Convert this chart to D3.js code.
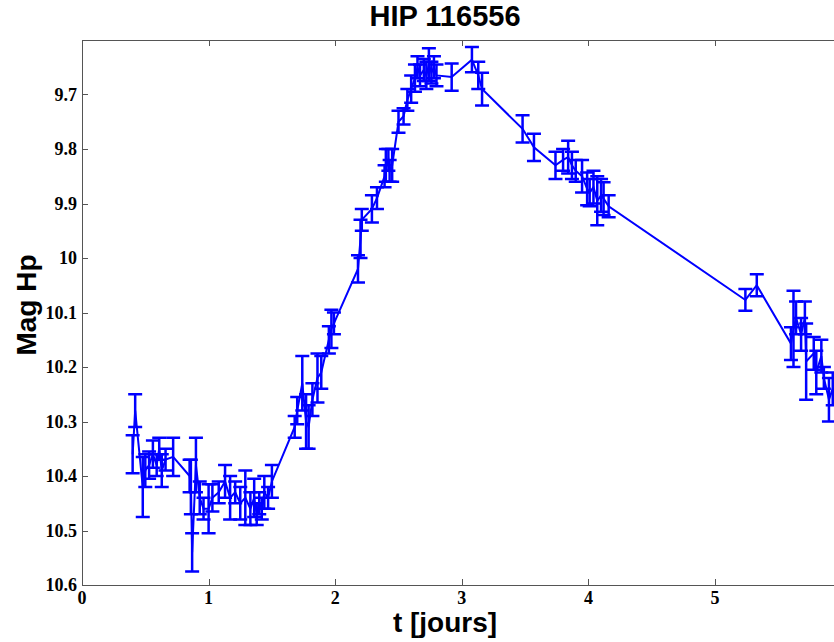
<!DOCTYPE html>
<html>
<head>
<meta charset="utf-8">
<script src="https://cdn.jsdelivr.net/npm/d3@7"></script>
<style>
  body { margin: 0; background: #fff; }
  .tick-label { font-family: 'Liberation Serif', 'Times New Roman', serif; font-weight: bold; font-size: 18px; }
  .big { font-family: 'Liberation Sans', Arial, sans-serif; font-weight: bold; }
</style>
</head>
<body>
<div id="chart"></div>
<script>
  'use strict';

  // time in days
  var times = [
    0.40, 0.42, 0.48, 0.50, 0.53, 0.56, 0.59, 0.61, 0.63, 0.66,
    0.72, 0.85, 0.86, 0.87, 0.90, 0.93, 0.96, 1.00, 1.03, 1.08,
    1.13, 1.17, 1.21, 1.25, 1.29, 1.33, 1.36, 1.38, 1.40, 1.42,
    1.44, 1.47, 1.50, 1.68, 1.70, 1.74, 1.77, 1.79, 1.82, 1.86,
    1.89, 1.95, 1.97, 1.99, 2.18, 2.20, 2.21, 2.29, 2.33, 2.39,
    2.40, 2.42, 2.43, 2.45, 2.50, 2.54, 2.57, 2.60, 2.63, 2.65,
    2.67, 2.70, 2.72, 2.74, 2.76, 2.78, 2.80, 2.92, 3.08, 3.13,
    3.16, 3.48, 3.57, 3.74, 3.80, 3.84, 3.87, 3.90, 3.95, 3.99,
    4.01, 4.04, 4.07, 4.10, 4.12, 4.16, 5.24, 5.33, 5.60, 5.62,
    5.64, 5.68, 5.71, 5.72, 5.78, 5.80, 5.84, 5.86, 5.90, 5.93,
    6.00
  ];

  // magnitude Hp
  var mags = [
    10.36, 10.28, 10.42, 10.39, 10.38, 10.36, 10.38, 10.35, 10.39, 10.37,
    10.365, 10.40, 10.42, 10.54, 10.38, 10.44, 10.46, 10.46, 10.44, 10.43,
    10.41, 10.44, 10.43, 10.45, 10.44, 10.46, 10.44, 10.47, 10.45, 10.46,
    10.43, 10.44, 10.41, 10.31, 10.28, 10.23, 10.30, 10.31, 10.26, 10.22,
    10.21, 10.15, 10.13, 10.12, 10.02, 9.965, 9.93, 9.91, 9.89, 9.85,
    9.83, 9.82, 9.84, 9.83, 9.75, 9.74, 9.71, 9.69, 9.67, 9.65,
    9.665, 9.655, 9.665, 9.645, 9.66, 9.65, 9.665, 9.668, 9.636, 9.665,
    9.69, 9.763, 9.797, 9.83, 9.82, 9.815, 9.83, 9.84, 9.85, 9.873,
    9.88, 9.87, 9.895, 9.885, 9.891, 9.905, 10.077, 10.05, 10.157, 10.13,
    10.11, 10.14, 10.11, 10.19, 10.175, 10.21, 10.18, 10.22, 10.26, 10.24,
    10.27
  ];

  // error bar half-widths
  var errs = [
    0.035, 0.03, 0.055, 0.03, 0.025, 0.025, 0.02, 0.02, 0.03, 0.02,
    0.035, 0.03, 0.05, 0.035, 0.05, 0.03, 0.02, 0.045, 0.025, 0.02,
    0.03, 0.04, 0.02, 0.03, 0.05, 0.03, 0.035, 0.02, 0.02, 0.02,
    0.03, 0.02, 0.03, 0.02, 0.025, 0.05, 0.05, 0.04, 0.03, 0.045,
    0.03, 0.025, 0.035, 0.02, 0.025, 0.035, 0.02, 0.025, 0.02, 0.02,
    0.03, 0.02, 0.02, 0.03, 0.02, 0.015, 0.02, 0.025, 0.025, 0.02,
    0.02, 0.02, 0.025, 0.03, 0.02, 0.02, 0.02, 0.025, 0.023, 0.025,
    0.03, 0.025, 0.025, 0.025, 0.02, 0.03, 0.025, 0.02, 0.03, 0.03,
    0.025, 0.03, 0.045, 0.03, 0.03, 0.02, 0.02, 0.02, 0.03, 0.07,
    0.03, 0.03, 0.03, 0.07, 0.03, 0.04, 0.03, 0.02, 0.04, 0.03,
    0.03
  ];

  var xTicks = [ 0, 1, 2, 3, 4, 5, 6 ];
  var yTicks = [ 9.7, 9.8, 9.9, 10, 10.1, 10.2, 10.3, 10.4, 10.5, 10.6 ];

  var width = 834,
      height = 642,
      plotLeft = 82,
      plotTop = 40,
      plotBottom = 585,
      pxPerDay = 126.6,
      blue = '#0000ff',
      axisColor = '#555',
      cap = 7;

  var data = times.map(function( t, i ) {
    return { t: t, m: mags[i], e: errs[i] };
  });

  var x = d3.scaleLinear()
    .domain([ 0, 6.5 ])
    .range([ plotLeft, plotLeft + pxPerDay * 6.5 ]);

  var y = d3.scaleLinear()
    .domain([ 9.6, 10.6 ])
    .range([ plotTop, plotBottom ]);

  var svg = d3.select( '#chart' )
    .append( 'svg' )
    .attr( 'width', width )
    .attr( 'height', height )
    .style( 'display', 'block' );

  svg.append( 'rect' )
    .attr( 'width', width )
    .attr( 'height', height )
    .attr( 'fill', '#fff' );

  // axes box (right side runs off the picture)
  var xRight = x( 6.5 );

  var axisG = svg.append( 'g' )
    .attr( 'stroke', axisColor )
    .attr( 'stroke-width', 1 )
    .attr( 'fill', 'none' );

  axisG.append( 'rect' )
    .attr( 'x', plotLeft + 0.5 )
    .attr( 'y', plotTop + 0.5 )
    .attr( 'width', xRight - plotLeft )
    .attr( 'height', plotBottom - plotTop );

  // inward ticks
  xTicks.forEach(function( t ) {
    var px = Math.round( x( t ) ) + 0.5;
    axisG.append( 'line' )
      .attr( 'x1', px ).attr( 'x2', px )
      .attr( 'y1', plotBottom ).attr( 'y2', plotBottom - 6 );
    axisG.append( 'line' )
      .attr( 'x1', px ).attr( 'x2', px )
      .attr( 'y1', plotTop ).attr( 'y2', plotTop + 6 );
  });

  yTicks.forEach(function( v ) {
    var py = Math.round( y( v ) ) + 0.5;
    axisG.append( 'line' )
      .attr( 'x1', plotLeft ).attr( 'x2', plotLeft + 6 )
      .attr( 'y1', py ).attr( 'y2', py );
  });

  // tick labels
  svg.selectAll( '.xlab' )
    .data( xTicks.filter(function( t ) { return t <= 5; }) )
    .enter().append( 'text' )
    .attr( 'class', 'tick-label xlab' )
    .attr( 'x', function( d ) { return x( d ); } )
    .attr( 'y', plotBottom + 19 )
    .attr( 'text-anchor', 'middle' )
    .text(function( d ) { return d; });

  svg.selectAll( '.ylab' )
    .data( yTicks )
    .enter().append( 'text' )
    .attr( 'class', 'tick-label ylab' )
    .attr( 'x', plotLeft - 5 )
    .attr( 'y', function( d ) { return y( d ) + 6; } )
    .attr( 'text-anchor', 'end' )
    .text(function( d ) { return d; });

  // data: clip to axes
  svg.append( 'clipPath' )
    .attr( 'id', 'plotclip' )
    .append( 'rect' )
    .attr( 'x', plotLeft )
    .attr( 'y', plotTop - 20 )
    .attr( 'width', xRight - plotLeft )
    .attr( 'height', plotBottom - plotTop + 40 );

  var plot = svg.append( 'g' )
    .attr( 'clip-path', 'url(#plotclip)' )
    .attr( 'stroke', blue )
    .attr( 'stroke-width', 2 )
    .attr( 'fill', 'none' );

  var line = d3.line()
    .x(function( d ) { return x( d.t ); })
    .y(function( d ) { return y( d.m ); });

  plot.append( 'path' )
    .datum( data )
    .attr( 'd', line );

  plot.selectAll( '.err' )
    .data( data )
    .enter().append( 'path' )
    .attr( 'class', 'err' )
    .attr( 'stroke-width', 2.5 )
    .attr( 'd', function( d ) {
      var px = x( d.t ),
          y0 = y( d.m - d.e ),
          y1 = y( d.m + d.e );
      return 'M' + px + ',' + y0 + 'V' + y1 +
        'M' + ( px - cap ) + ',' + y0 + 'H' + ( px + cap ) +
        'M' + ( px - cap ) + ',' + y1 + 'H' + ( px + cap );
    });

  // titles
  svg.append( 'text' )
    .attr( 'class', 'big' )
    .attr( 'x', 445 )
    .attr( 'y', 26 )
    .attr( 'text-anchor', 'middle' )
    .style( 'font-size', '29px' )
    .text( 'HIP 116556' );

  svg.append( 'text' )
    .attr( 'class', 'big' )
    .attr( 'x', 445 )
    .attr( 'y', 632 )
    .attr( 'text-anchor', 'middle' )
    .style( 'font-size', '28px' )
    .text( 't [jours]' );

  svg.append( 'text' )
    .attr( 'class', 'big' )
    .attr( 'transform', 'translate(36,305) rotate(-90)' )
    .attr( 'text-anchor', 'middle' )
    .style( 'font-size', '28px' )
    .text( 'Mag Hp' );
</script>
</body>
</html>
